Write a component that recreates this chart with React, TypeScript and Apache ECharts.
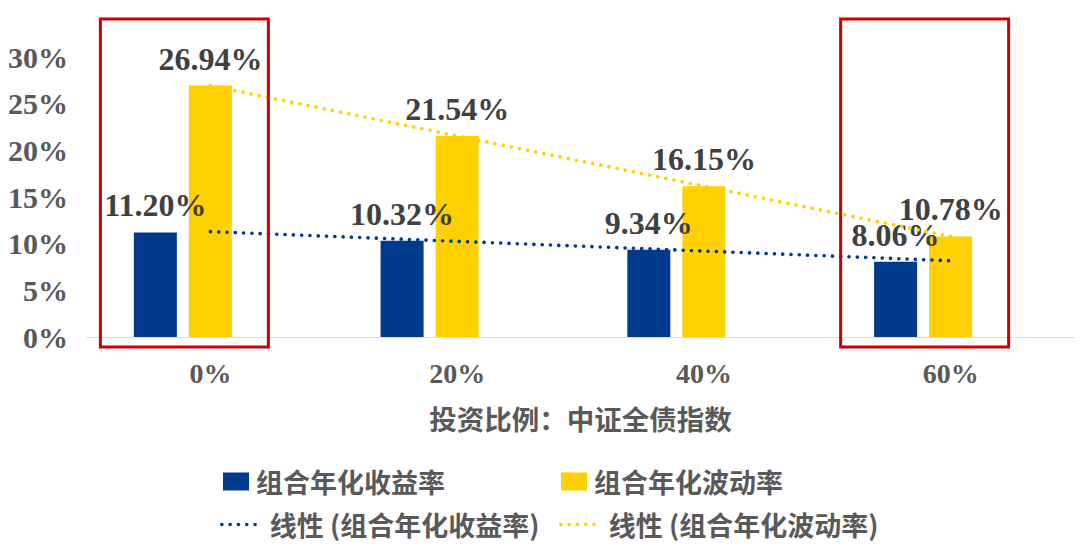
import React, { useEffect, useRef } from 'react';
import * as echarts from 'echarts';

const categories = ['0%', '20%', '40%', '60%'];
const returnName = '组合年化收益率';
const volName = '组合年化波动率';
const returnTrendName = '线性 (组合年化收益率)';
const volTrendName = '线性 (组合年化波动率)';
const returnValues = [11.2, 10.32, 9.34, 8.06];
const volValues = [26.94, 21.54, 16.15, 10.78];
// trend line end points
const returnTrend: [string, number][] = [['0%', 11.29], ['60%', 8.17]];
const volTrend: [string, number][] = [['0%', 26.93], ['60%', 10.77]];
const highlighted = ['0%', '60%'];
const yMin = 0;
const yMax = 30;
const yStep = 5;
const axisTitle = '投资比例：中证全债指数';

const BLUE = '#003A8C';
const YELLOW = '#FFD100';
const NUM_FONT = '"Liberation Serif", "DejaVu Serif", serif';
const CJK_FONT = '"Noto Sans CJK SC", "Noto Sans", sans-serif';

export default function App() {
  const ref = useRef<HTMLDivElement>(null);
  useEffect(() => {
    if (!ref.current) return;
    const chart = echarts.init(ref.current, undefined, { renderer: 'svg' });
    const barLabel = {
      show: true,
      position: 'top',
      distance: 11,
      color: '#404040',
      fontFamily: NUM_FONT,
      fontWeight: 'bold',
      fontSize: 32,
      formatter: (p: any) => Number(p.value).toFixed(2) + '%',
    };
    const legendText = {
      color: '#595959',
      fontFamily: CJK_FONT,
      fontWeight: 'bold',
      fontSize: 27,
      padding: [0, 0, 0, 2],
    };
    const dotted = (color: string) => ({
      color,
      width: 3.6,
      type: [0.1, 8.2],
      cap: 'round',
    });
    const legendDots = { width: 3.6, type: [0.1, 8.2], cap: 'round' };
    chart.setOption({
      animation: false,
      grid: { left: 87, right: 6, top: 57, bottom: 214, containLabel: false },
      legend: [
        { data: [{ name: returnName, icon: 'rect' }], left: 218, top: 463, itemWidth: 26, itemHeight: 18, textStyle: legendText },
        { data: [{ name: volName, icon: 'rect' }], left: 556, top: 463, itemWidth: 26, itemHeight: 18, textStyle: legendText },
        {
          data: [returnTrendName], left: 215, top: 506, itemWidth: 38, itemHeight: 14,
          textStyle: { ...legendText, padding: [0, 0, 0, 5] },
          itemStyle: { color: 'transparent', borderWidth: 0 },
          lineStyle: legendDots,
        },
        {
          data: [volTrendName], left: 554, top: 506, itemWidth: 38, itemHeight: 14,
          textStyle: { ...legendText, padding: [0, 0, 0, 5] },
          itemStyle: { color: 'transparent', borderWidth: 0 },
          lineStyle: legendDots,
        },
      ],
      xAxis: {
        type: 'category',
        data: categories,
        axisLine: { show: true, lineStyle: { color: '#D9D9D9', width: 1 } },
        axisTick: { show: false },
        axisLabel: {
          margin: 22,
          color: '#595959',
          fontFamily: NUM_FONT,
          fontWeight: 'bold',
          fontSize: 28,
        },
        name: axisTitle,
        nameLocation: 'middle',
        nameGap: 67,
        nameTextStyle: {
          color: '#595959',
          fontFamily: CJK_FONT,
          fontWeight: 'bold',
          fontSize: 27.5,
        },
      },
      yAxis: {
        type: 'value',
        min: yMin,
        max: yMax,
        interval: yStep,
        splitLine: { show: false },
        axisLine: { show: false },
        axisTick: { show: false },
        axisLabel: {
          margin: 19,
          formatter: '{value}%',
          color: '#595959',
          fontFamily: NUM_FONT,
          fontWeight: 'bold',
          fontSize: 30,
        },
      },
      series: [
        {
          name: returnName,
          type: 'bar',
          data: returnValues,
          barWidth: 43,
          barGap: '28%',
          itemStyle: { color: BLUE },
          label: barLabel,
        },
        {
          name: volName,
          type: 'bar',
          data: volValues,
          barWidth: 43,
          barGap: '28%',
          itemStyle: { color: YELLOW },
          label: barLabel,
        },
        {
          name: '_spacer',
          type: 'bar',
          data: categories.map(() => '-'),
          barWidth: 43,
          barGap: '28%',
          silent: true,
        },
        {
          name: returnTrendName,
          type: 'line',
          data: returnTrend,
          symbol: 'none',
          color: BLUE,
          lineStyle: dotted(BLUE),
          z: 5,
        },
        {
          name: volTrendName,
          type: 'line',
          data: volTrend,
          symbol: 'none',
          color: YELLOW,
          lineStyle: dotted(YELLOW),
          z: 5,
        },
      ],
    });

    const yTop = chart.convertToPixel({ yAxisIndex: 0 }, yMax) as number;
    const yBottom = chart.convertToPixel({ yAxisIndex: 0 }, yMin) as number;
    chart.setOption({
      graphic: highlighted.map((c) => {
        const cx = chart.convertToPixel({ xAxisIndex: 0 }, c) as number;
        return {
          type: 'rect',
          shape: { x: cx - 110, y: yTop - 38, width: 168, height: yBottom - yTop + 48 },
          style: { fill: 'none', stroke: '#CC0000', lineWidth: 3 },
          z: 10,
        };
      }),
    });

    return () => chart.dispose();
  }, []);
  return (
    <div
      ref={ref}
      style={{ position: 'fixed', left: 0, top: 0, width: 1080, height: 551, background: '#fff' }}
    />
  );
}
